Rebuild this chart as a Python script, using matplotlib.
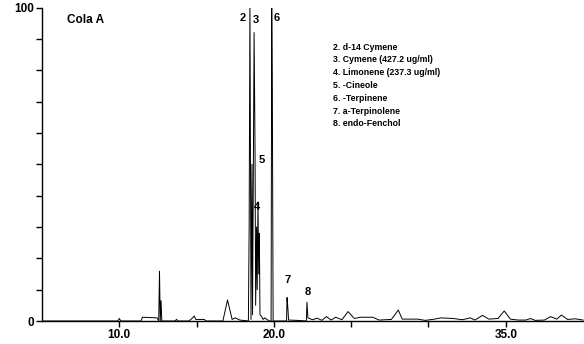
import matplotlib
matplotlib.use("Agg")
import matplotlib.pyplot as plt

# retention time (min) and relative abundance (%)
rt = [5.0, 9.9, 10.0, 10.1, 11.4, 11.5, 12.45, 12.55, 12.6, 12.65, 12.7, 12.75,
      13.6, 13.7, 13.8, 14.5, 14.7, 14.85, 14.95, 15.5, 15.6, 16.7, 17.0, 17.3,
      17.5, 17.8, 18.35, 18.4, 18.45, 18.52, 18.58, 18.62, 18.72, 18.78, 18.82,
      18.88, 18.92, 18.97, 19.02, 19.06, 19.1, 19.2, 19.3, 19.4, 19.7, 19.82,
      19.86, 19.9, 19.95, 20.5, 20.82, 20.85, 20.9, 20.95, 21.5, 22.1, 22.14, 22.2,
      22.5, 22.8, 23.1, 23.4, 23.7, 24.0, 24.4, 24.8, 25.2, 25.6, 26.4, 26.8,
      27.6, 28.05, 28.3, 28.5, 29.3, 29.8, 30.4, 30.8, 31.6, 32.2, 32.7, 33.0,
      33.5, 33.9, 34.5, 34.9, 35.3, 35.8, 36.3, 36.6, 36.9, 37.5, 37.9, 38.3,
      38.6, 39.0, 39.5, 40.0]
abundance = [0, 0, 0.8, 0, 0, 1.2, 1.0, 0, 15.9, 0, 6.5, 0,
             0, 0.5, 0, 0, 0.8, 1.6, 0.5, 0.5, 0, 0, 6.7, 0.5,
             1.0, 0.3, 0, 30, 102, 0.5, 50, 2, 92, 55, 5,
             30, 10, 38, 15, 28, 2, 1.5, 0.5, 1.0, 0, 0,
             102, 73, 0, 0, 0, 7.5, 4.5, 0.3, 0.2, 0, 6.0, 1.0,
             0.4, 0.9, 0.2, 1.4, 0.3, 1.2, 0.4, 3.0, 0.8, 1.2, 1.2, 0.3,
             0.5, 3.5, 0.6, 0.6, 0.6, 0.2, 0.6, 1.0, 0.8, 0.4, 1.0, 0.3,
             1.8, 0.6, 0.8, 3.2, 0.6, 0.3, 0.3, 0.8, 0.2, 0.3, 1.4, 0.6,
             1.9, 0.5, 0.7, 0.3]

peak_labels = ["2", "3", "4", "5", "6", "7", "8"]
peak_rt = [18.0, 18.84, 18.9, 19.23, 20.2, 20.9, 22.2]
peak_y = [96.8, 95.9, 36.3, 51.3, 96.8, 13.0, 9.2]

compounds = ["2. d-14 Cymene", "3. Cymene (427.2 ug/ml)", "4. Limonene (237.3 ug/ml)",
             "5. -Cineole", "6. -Terpinene", "7. a-Terpinolene", "8. endo-Fenchol"]

xticks = [10, 15, 20, 25, 30, 35]
xticklabels = ["10.0", "", "20.0", "", "", "35.0"]
yticks = [0, 10, 20, 30, 40, 50, 60, 70, 80, 90, 100]
yticklabels = ["0", "", "", "", "", "", "", "", "", "", "100"]

plt.rcParams['font.family'] = ['Liberation Sans', 'DejaVu Sans']

fig = plt.figure(figsize=(5.84, 3.44), dpi=100)
ax = fig.add_axes([42 / 584, 1 - 321 / 344, 542 / 584, 313.5 / 344])

ax.plot(rt, abundance, color="black", linewidth=0.7)
ax.set_xlim(5, 40.06)
ax.set_ylim(0, 100)

ax.spines["top"].set_visible(False)
ax.spines["right"].set_visible(False)
ax.spines["left"].set_linewidth(1)
ax.spines["bottom"].set_linewidth(1)

ax.set_xticks(xticks)
ax.set_xticklabels(xticklabels, fontsize=8.5, fontweight="bold")
ax.set_yticks(yticks)
ax.set_yticklabels(yticklabels, fontsize=8.5, fontweight="bold")
ax.tick_params(direction="out", length=4, width=1, pad=2)

for lab, x, y in zip(peak_labels, peak_rt, peak_y):
    ax.text(x, y, lab, fontsize=8, fontweight="bold", ha="center", va="center")

ax.text(67 / 584, 1 - 20 / 344, "Cola A", transform=fig.transFigure,
        fontsize=8.5, fontweight="bold", va="center")

for i, c in enumerate(compounds):
    fig.text(333 / 584, 1 - (47 + 12.8 * i) / 344, c, fontsize=6.3,
             fontweight="bold", va="center")

fig.savefig("out.png", dpi=100)
